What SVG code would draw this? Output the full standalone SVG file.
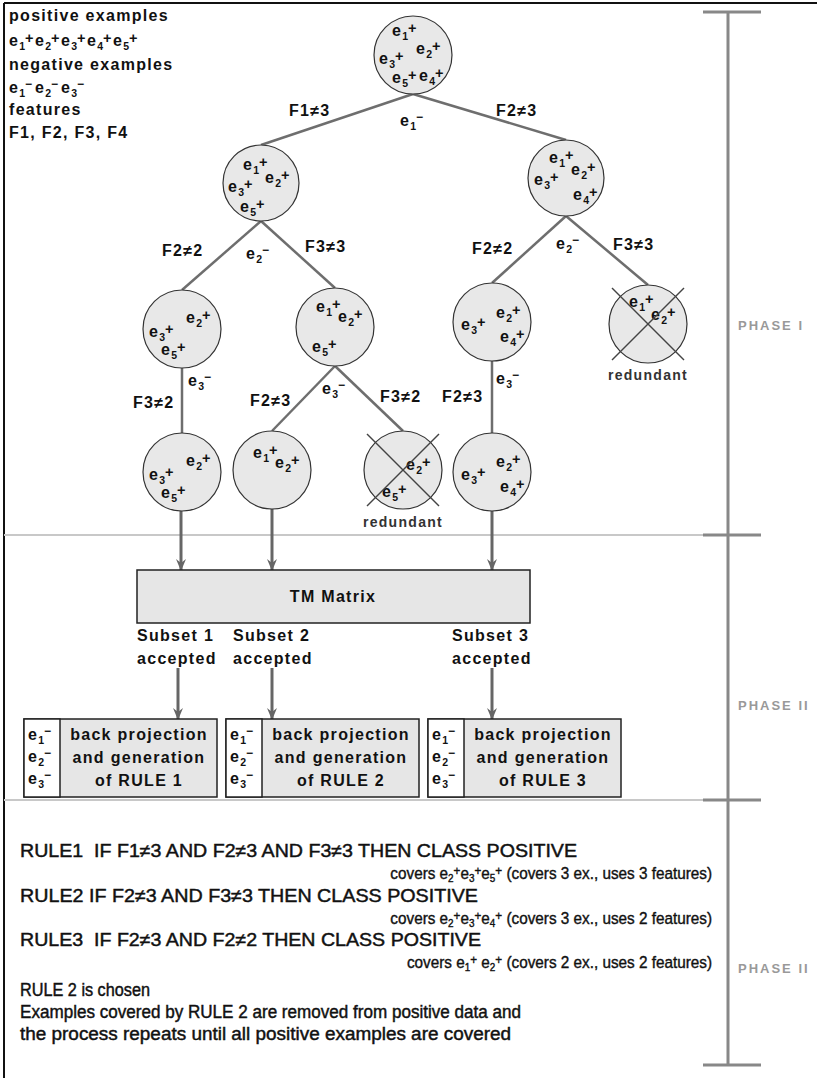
<svg xmlns="http://www.w3.org/2000/svg" width="817" height="1078" viewBox="0 0 817 1078">
<style>
.lb{font-family:"Liberation Sans",Arial,sans-serif;font-weight:bold;font-size:16px;letter-spacing:1.3px;fill:#111}
.sb{font-size:10.5px;letter-spacing:0}
.pl{font-size:14.5px;letter-spacing:0}
.mn{font-size:12px;letter-spacing:0}
.node circle{fill:#e8e8e8;stroke:#333;stroke-width:1.2}
.edge{stroke:#6e6e6e;stroke-width:2.5;fill:none}
.xl{stroke:#444;stroke-width:1.5}
.arrow{stroke:#666;stroke-width:3;fill:none;marker-end:url(#ah)}
.red{font-family:"Liberation Sans",Arial,sans-serif;font-weight:bold;font-size:14px;letter-spacing:1.3px;fill:#333;text-anchor:middle}
.rule{font-family:"Liberation Sans Narrow","Liberation Sans",Arial,sans-serif;font-size:18px;fill:#111;stroke:#111;stroke-width:0.45;white-space:pre}
.cov{font-family:"Liberation Sans Narrow","Liberation Sans",Arial,sans-serif;font-size:17px;fill:#111;stroke:#111;stroke-width:0.4;text-anchor:end}
.phase{font-family:"Liberation Sans",Arial,sans-serif;font-weight:bold;font-size:13px;letter-spacing:2px;fill:#999}
.sep{stroke:#c8c8c8;stroke-width:2}
.bar{stroke:#888;stroke-width:3}
.box{fill:#e6e6e6;stroke:#222;stroke-width:1.5}
.wcell{fill:#fff;stroke:#222;stroke-width:1.5}
.mid{text-anchor:middle}
</style>
<defs>
<marker id="ah" viewBox="0 0 12 12" refX="11" refY="6" markerWidth="12" markerHeight="12" markerUnits="userSpaceOnUse" orient="auto">
<path d="M0,1 L12,6 L0,11 L4,6 z" fill="#666"/>
</marker>
</defs>

<g id="frame">
<line x1="4" y1="3" x2="817" y2="3" stroke="#111" stroke-width="2"/>
<line x1="4" y1="3" x2="4" y2="1078" stroke="#111" stroke-width="2"/>
<line class="sep" x1="4" y1="535" x2="705" y2="535"/>
<line class="sep" x1="4" y1="800" x2="705" y2="800"/>
</g>

<g id="phases">
<line class="bar" x1="728" y1="12" x2="728" y2="1065"/>
<line class="bar" x1="703" y1="12" x2="761" y2="12"/>
<line class="bar" x1="703" y1="535" x2="761" y2="535"/>
<line class="bar" x1="703" y1="800" x2="761" y2="800"/>
<line class="bar" x1="703" y1="1065" x2="761" y2="1065"/>
<text class="phase" x="738" y="330">PHASE I</text>
<text class="phase" x="738" y="710">PHASE II</text>
<text class="phase" x="738" y="973">PHASE II</text>
</g>

<g id="legend">
<text class="lb" x="9" y="21">positive examples</text>
<text class="lb" x="9" y="46">e<tspan class="sb" dy="4">1</tspan><tspan class="pl" dy="-7">+</tspan></text>
<text class="lb" x="35" y="46">e<tspan class="sb" dy="4">2</tspan><tspan class="pl" dy="-7">+</tspan></text>
<text class="lb" x="61" y="46">e<tspan class="sb" dy="4">3</tspan><tspan class="pl" dy="-7">+</tspan></text>
<text class="lb" x="87" y="46">e<tspan class="sb" dy="4">4</tspan><tspan class="pl" dy="-7">+</tspan></text>
<text class="lb" x="113" y="46">e<tspan class="sb" dy="4">5</tspan><tspan class="pl" dy="-7">+</tspan></text>
<text class="lb" x="9" y="70">negative examples</text>
<text class="lb" x="9" y="93">e<tspan class="sb" dy="4">1</tspan><tspan class="mn" dy="-9">−</tspan></text>
<text class="lb" x="35" y="93">e<tspan class="sb" dy="4">2</tspan><tspan class="mn" dy="-9">−</tspan></text>
<text class="lb" x="61" y="93">e<tspan class="sb" dy="4">3</tspan><tspan class="mn" dy="-9">−</tspan></text>
<text class="lb" x="9" y="115">features</text>
<text class="lb" x="9" y="138">F1, F2, F3, F4</text>
</g>

<g id="connectors">
<line class="edge" x1="413" y1="94" x2="261" y2="145"/>
<line class="edge" x1="413" y1="94" x2="566" y2="140"/>
<line class="edge" x1="261" y1="221" x2="182" y2="290"/>
<line class="edge" x1="261" y1="221" x2="335" y2="288"/>
<line class="edge" x1="566" y1="216" x2="492" y2="283"/>
<line class="edge" x1="566" y1="216" x2="648" y2="285"/>
<line class="edge" x1="182" y1="368" x2="182" y2="433"/>
<line class="edge" x1="335" y1="366" x2="272" y2="431"/>
<line class="edge" x1="335" y1="366" x2="403" y2="431"/>
<line class="edge" x1="492" y1="361" x2="492" y2="433"/>
<line class="arrow" x1="181" y1="511" x2="181" y2="570"/>
<line class="arrow" x1="272" y1="509" x2="272" y2="570"/>
<line class="arrow" x1="492" y1="511" x2="492" y2="570"/>
<line class="arrow" x1="178" y1="668" x2="178" y2="719"/>
<line class="arrow" x1="272" y1="668" x2="272" y2="719"/>
<line class="arrow" x1="492" y1="668" x2="492" y2="719"/>
<text class="lb" x="289" y="116">F1≠3</text>
<text class="lb" x="496" y="116">F2≠3</text>
<text class="lb" x="400" y="126">e<tspan class="sb" dy="4">1</tspan><tspan class="mn" dy="-9">−</tspan></text>
<text class="lb" x="162" y="256">F2≠2</text>
<text class="lb" x="246" y="259">e<tspan class="sb" dy="4">2</tspan><tspan class="mn" dy="-9">−</tspan></text>
<text class="lb" x="305" y="252">F3≠3</text>
<text class="lb" x="472" y="254">F2≠2</text>
<text class="lb" x="556" y="249">e<tspan class="sb" dy="4">2</tspan><tspan class="mn" dy="-9">−</tspan></text>
<text class="lb" x="613" y="250">F3≠3</text>
<text class="lb" x="188" y="386">e<tspan class="sb" dy="4">3</tspan><tspan class="mn" dy="-9">−</tspan></text>
<text class="lb" x="133" y="408">F3≠2</text>
<text class="lb" x="322" y="394">e<tspan class="sb" dy="4">3</tspan><tspan class="mn" dy="-9">−</tspan></text>
<text class="lb" x="250" y="406">F2≠3</text>
<text class="lb" x="380" y="402">F3≠2</text>
<text class="lb" x="496" y="384">e<tspan class="sb" dy="4">3</tspan><tspan class="mn" dy="-9">−</tspan></text>
<text class="lb" x="442" y="402">F2≠3</text>
</g>

<g id="n-root" class="node">
<circle cx="413" cy="55" r="39"/>
<text class="lb" x="392" y="36">e<tspan class="sb" dy="4">1</tspan><tspan class="pl" dy="-7">+</tspan></text>
<text class="lb" x="416" y="54">e<tspan class="sb" dy="4">2</tspan><tspan class="pl" dy="-7">+</tspan></text>
<text class="lb" x="379" y="64">e<tspan class="sb" dy="4">3</tspan><tspan class="pl" dy="-7">+</tspan></text>
<text class="lb" x="392" y="83">e<tspan class="sb" dy="4">5</tspan><tspan class="pl" dy="-7">+</tspan></text>
<text class="lb" x="419" y="81">e<tspan class="sb" dy="4">4</tspan><tspan class="pl" dy="-7">+</tspan></text>
</g>

<g id="n-l1" class="node">
<circle cx="261" cy="183" r="38"/>
<text class="lb" x="243" y="170">e<tspan class="sb" dy="4">1</tspan><tspan class="pl" dy="-7">+</tspan></text>
<text class="lb" x="265" y="183">e<tspan class="sb" dy="4">2</tspan><tspan class="pl" dy="-7">+</tspan></text>
<text class="lb" x="228" y="192">e<tspan class="sb" dy="4">3</tspan><tspan class="pl" dy="-7">+</tspan></text>
<text class="lb" x="240" y="212">e<tspan class="sb" dy="4">5</tspan><tspan class="pl" dy="-7">+</tspan></text>
</g>

<g id="n-r1" class="node">
<circle cx="566" cy="178" r="38"/>
<text class="lb" x="549" y="163">e<tspan class="sb" dy="4">1</tspan><tspan class="pl" dy="-7">+</tspan></text>
<text class="lb" x="571" y="175">e<tspan class="sb" dy="4">2</tspan><tspan class="pl" dy="-7">+</tspan></text>
<text class="lb" x="534" y="185">e<tspan class="sb" dy="4">3</tspan><tspan class="pl" dy="-7">+</tspan></text>
<text class="lb" x="573" y="200">e<tspan class="sb" dy="4">4</tspan><tspan class="pl" dy="-7">+</tspan></text>
</g>

<g id="n-ll" class="node">
<circle cx="182" cy="329" r="39"/>
<text class="lb" x="186" y="323">e<tspan class="sb" dy="4">2</tspan><tspan class="pl" dy="-7">+</tspan></text>
<text class="lb" x="149" y="337">e<tspan class="sb" dy="4">3</tspan><tspan class="pl" dy="-7">+</tspan></text>
<text class="lb" x="161" y="355">e<tspan class="sb" dy="4">5</tspan><tspan class="pl" dy="-7">+</tspan></text>
</g>

<g id="n-lr" class="node">
<circle cx="335" cy="327" r="39"/>
<text class="lb" x="316" y="312">e<tspan class="sb" dy="4">1</tspan><tspan class="pl" dy="-7">+</tspan></text>
<text class="lb" x="338" y="322">e<tspan class="sb" dy="4">2</tspan><tspan class="pl" dy="-7">+</tspan></text>
<text class="lb" x="312" y="352">e<tspan class="sb" dy="4">5</tspan><tspan class="pl" dy="-7">+</tspan></text>
</g>

<g id="n-rl" class="node">
<circle cx="492" cy="322" r="39"/>
<text class="lb" x="461" y="330">e<tspan class="sb" dy="4">3</tspan><tspan class="pl" dy="-7">+</tspan></text>
<text class="lb" x="496" y="318">e<tspan class="sb" dy="4">2</tspan><tspan class="pl" dy="-7">+</tspan></text>
<text class="lb" x="500" y="342">e<tspan class="sb" dy="4">4</tspan><tspan class="pl" dy="-7">+</tspan></text>
</g>

<g id="n-rr" class="node">
<circle cx="648" cy="324" r="39"/>
<text class="lb" x="629" y="307">e<tspan class="sb" dy="4">1</tspan><tspan class="pl" dy="-7">+</tspan></text>
<text class="lb" x="651" y="320">e<tspan class="sb" dy="4">2</tspan><tspan class="pl" dy="-7">+</tspan></text>
<line class="xl" x1="612" y1="288" x2="684" y2="360"/>
<line class="xl" x1="684" y1="288" x2="612" y2="360"/>
<text class="red" x="648" y="380">redundant</text>
</g>

<g id="n-lll" class="node">
<circle cx="182" cy="472" r="39"/>
<text class="lb" x="186" y="466">e<tspan class="sb" dy="4">2</tspan><tspan class="pl" dy="-7">+</tspan></text>
<text class="lb" x="149" y="480">e<tspan class="sb" dy="4">3</tspan><tspan class="pl" dy="-7">+</tspan></text>
<text class="lb" x="161" y="498">e<tspan class="sb" dy="4">5</tspan><tspan class="pl" dy="-7">+</tspan></text>
</g>

<g id="n-lrl" class="node">
<circle cx="272" cy="470" r="39"/>
<text class="lb" x="253" y="458">e<tspan class="sb" dy="4">1</tspan><tspan class="pl" dy="-7">+</tspan></text>
<text class="lb" x="275" y="468">e<tspan class="sb" dy="4">2</tspan><tspan class="pl" dy="-7">+</tspan></text>
</g>

<g id="n-lrr" class="node">
<circle cx="403" cy="470" r="39"/>
<text class="lb" x="406" y="470">e<tspan class="sb" dy="4">2</tspan><tspan class="pl" dy="-7">+</tspan></text>
<text class="lb" x="382" y="497">e<tspan class="sb" dy="4">5</tspan><tspan class="pl" dy="-7">+</tspan></text>
<line class="xl" x1="367" y1="434" x2="439" y2="506"/>
<line class="xl" x1="439" y1="434" x2="367" y2="506"/>
<text class="red" x="403" y="527">redundant</text>
</g>

<g id="n-rll" class="node">
<circle cx="492" cy="472" r="39"/>
<text class="lb" x="461" y="480">e<tspan class="sb" dy="4">3</tspan><tspan class="pl" dy="-7">+</tspan></text>
<text class="lb" x="496" y="467">e<tspan class="sb" dy="4">2</tspan><tspan class="pl" dy="-7">+</tspan></text>
<text class="lb" x="500" y="492">e<tspan class="sb" dy="4">4</tspan><tspan class="pl" dy="-7">+</tspan></text>
</g>

<g id="tm-matrix">
<rect class="box" x="137" y="570" width="393" height="53"/>
<text class="lb mid" x="333" y="602">TM Matrix</text>
</g>

<g id="subsets">
<text class="lb" x="137" y="641">Subset 1</text>
<text class="lb" x="137" y="664">accepted</text>
<text class="lb" x="233" y="641">Subset 2</text>
<text class="lb" x="233" y="664">accepted</text>
<text class="lb" x="452" y="641">Subset 3</text>
<text class="lb" x="452" y="664">accepted</text>
</g>

<g id="rule-box-1">
<rect class="box" x="24" y="719" width="193" height="78"/>
<rect class="wcell" x="24" y="719" width="36" height="78"/>
<text class="lb" x="28" y="740">e<tspan class="sb" dy="4">1</tspan><tspan class="mn" dy="-9">−</tspan></text>
<text class="lb" x="28" y="762">e<tspan class="sb" dy="4">2</tspan><tspan class="mn" dy="-9">−</tspan></text>
<text class="lb" x="28" y="784">e<tspan class="sb" dy="4">3</tspan><tspan class="mn" dy="-9">−</tspan></text>
<text class="lb mid" x="139" y="740">back projection</text>
<text class="lb mid" x="139" y="763">and generation</text>
<text class="lb mid" x="139" y="786">of RULE 1</text>
</g>

<g id="rule-box-2">
<rect class="box" x="226" y="719" width="193" height="78"/>
<rect class="wcell" x="226" y="719" width="36" height="78"/>
<text class="lb" x="230" y="740">e<tspan class="sb" dy="4">1</tspan><tspan class="mn" dy="-9">−</tspan></text>
<text class="lb" x="230" y="762">e<tspan class="sb" dy="4">2</tspan><tspan class="mn" dy="-9">−</tspan></text>
<text class="lb" x="230" y="784">e<tspan class="sb" dy="4">3</tspan><tspan class="mn" dy="-9">−</tspan></text>
<text class="lb mid" x="341" y="740">back projection</text>
<text class="lb mid" x="341" y="763">and generation</text>
<text class="lb mid" x="341" y="786">of RULE 2</text>
</g>

<g id="rule-box-3">
<rect class="box" x="428" y="719" width="193" height="78"/>
<rect class="wcell" x="428" y="719" width="36" height="78"/>
<text class="lb" x="432" y="740">e<tspan class="sb" dy="4">1</tspan><tspan class="mn" dy="-9">−</tspan></text>
<text class="lb" x="432" y="762">e<tspan class="sb" dy="4">2</tspan><tspan class="mn" dy="-9">−</tspan></text>
<text class="lb" x="432" y="784">e<tspan class="sb" dy="4">3</tspan><tspan class="mn" dy="-9">−</tspan></text>
<text class="lb mid" x="543" y="740">back projection</text>
<text class="lb mid" x="543" y="763">and generation</text>
<text class="lb mid" x="543" y="786">of RULE 3</text>
</g>

<g id="rules">
<text class="rule" x="20" y="857" textLength="557" lengthAdjust="spacingAndGlyphs">RULE1  IF F1≠3 AND F2≠3 AND F3≠3 THEN CLASS POSITIVE</text>
<text class="cov" transform="translate(712 879) scale(0.9 1)">covers e<tspan font-size="11" dy="3">2</tspan><tspan font-size="13" dy="-7">+</tspan><tspan dy="4">e</tspan><tspan font-size="11" dy="3">3</tspan><tspan font-size="13" dy="-7">+</tspan><tspan dy="4">e</tspan><tspan font-size="11" dy="3">5</tspan><tspan font-size="13" dy="-7">+</tspan><tspan dy="4"> (covers 3 ex., uses 3 features)</tspan></text>
<text class="rule" x="20" y="902" textLength="458" lengthAdjust="spacingAndGlyphs">RULE2 IF F2≠3 AND F3≠3 THEN CLASS POSITIVE</text>
<text class="cov" transform="translate(712 924) scale(0.9 1)">covers e<tspan font-size="11" dy="3">2</tspan><tspan font-size="13" dy="-7">+</tspan><tspan dy="4">e</tspan><tspan font-size="11" dy="3">3</tspan><tspan font-size="13" dy="-7">+</tspan><tspan dy="4">e</tspan><tspan font-size="11" dy="3">4</tspan><tspan font-size="13" dy="-7">+</tspan><tspan dy="4"> (covers 3 ex., uses 2 features)</tspan></text>
<text class="rule" x="20" y="946" textLength="461" lengthAdjust="spacingAndGlyphs">RULE3  IF F2≠3 AND F2≠2 THEN CLASS POSITIVE</text>
<text class="cov" transform="translate(712 968) scale(0.9 1)">covers e<tspan font-size="11" dy="3">1</tspan><tspan font-size="13" dy="-7">+</tspan><tspan dy="4"> e</tspan><tspan font-size="11" dy="3">2</tspan><tspan font-size="13" dy="-7">+</tspan><tspan dy="4"> (covers 2 ex., uses 2 features)</tspan></text>
<text class="rule" x="20" y="996" textLength="130" lengthAdjust="spacingAndGlyphs">RULE 2 is chosen</text>
<text class="rule" x="20" y="1018" textLength="501" lengthAdjust="spacingAndGlyphs">Examples covered by RULE 2 are removed from positive data and</text>
<text class="rule" x="20" y="1040" textLength="491" lengthAdjust="spacingAndGlyphs">the process repeats until all positive examples are covered</text>
</g>
</svg>
